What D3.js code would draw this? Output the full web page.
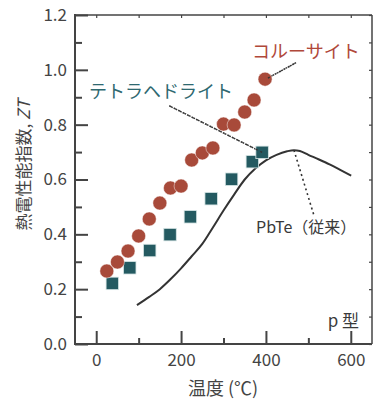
<!DOCTYPE html>
<html><head><meta charset="utf-8">
<script src="https://cdn.jsdelivr.net/npm/d3@7"></script>
<style>body{margin:0;background:#fff}</style>
</head><body><svg id="c" width="373" height="400"></svg>
<script>
// ---- data ----
const colusiteT  = [25, 50, 75, 100, 125, 150, 175, 200, 225, 250, 275, 300, 325, 350, 372, 398];
const colusiteZT = [0.266, 0.299, 0.339, 0.394, 0.456, 0.514, 0.569, 0.576, 0.671, 0.697, 0.715, 0.802, 0.799, 0.846, 0.890, 0.966];
const tetraT  = [38, 79, 126, 174, 222, 271, 319, 368, 391];
const tetraZT = [0.221, 0.278, 0.341, 0.399, 0.464, 0.530, 0.601, 0.665, 0.699];
const pbteT  = [96, 125, 150, 175, 200, 225, 250, 275, 300, 325, 350, 375, 400, 425, 450, 466, 480, 500, 525, 550, 575, 601];
const pbteZT = [0.142, 0.172, 0.200, 0.236, 0.276, 0.320, 0.365, 0.425, 0.487, 0.545, 0.600, 0.640, 0.670, 0.690, 0.703, 0.707, 0.704, 0.690, 0.673, 0.655, 0.635, 0.614];
const xMajor = [0, 200, 400, 600];
const xMinor = [100, 300, 500];
const yMajor = [0, 0.2, 0.4, 0.6, 0.8, 1.0, 1.2];
const yMinor = [0.1, 0.3, 0.5, 0.7, 0.9, 1.1];
const labels = {colusite: "コルーサイト", tetra: "テトラヘドライト", pbte: "PbTe（従来）", ptype: "p 型"};
// leader lines [from, to] in data units
const colusiteLeader = [[400, 0.966], [471, 1.026]];
const tetraLeader = [[172, 0.869], [391, 0.699]];
const pbteLeader = [[466, 0.707], [513, 0.47]];

const W = 373, H = 400;
const L = 75, R = 372, T = 15, B = 344;
const FONT = "'Noto Sans CJK JP', 'Noto Sans', sans-serif";
const svg = d3.select("#c");
const x = d3.scaleLinear().domain([-50, 650]).range([L, R]);
const y = d3.scaleLinear().domain([0, 1.2]).range([B, T]);

const axisColor = "#444";
// frame top/right
svg.append("line").attr("x1", L).attr("x2", R).attr("y1", T).attr("y2", T).attr("stroke", axisColor).attr("stroke-width", 1.5);
svg.append("line").attr("x1", R).attr("x2", R).attr("y1", T).attr("y2", B).attr("stroke", axisColor).attr("stroke-width", 1.5);
// top minor ticks
const topAx = svg.append("g").attr("transform", `translate(0,${T})`)
  .call(d3.axisTop(x).tickValues(xMajor.concat(xMinor)).tickSize(-3).tickFormat(""));
const rightAx = svg.append("g").attr("transform", `translate(${R},0)`)
  .call(d3.axisRight(y).tickValues(yMajor.concat(yMinor)).tickSize(-3).tickFormat(""));
[topAx, rightAx].forEach(g => { g.select(".domain").remove(); g.selectAll("line").attr("stroke", axisColor).attr("stroke-width", 1.2); });

// left axis
const yAx = svg.append("g").attr("transform", `translate(${L},0)`)
  .call(d3.axisLeft(y).tickValues(yMajor).tickSize(-13).tickPadding(8).tickFormat(d3.format(".1f")));
const yAxMin = svg.append("g").attr("transform", `translate(${L},0)`)
  .call(d3.axisLeft(y).tickValues(yMinor).tickSize(-7).tickFormat(""));
// bottom axis
const xAx = svg.append("g").attr("transform", `translate(0,${B})`)
  .call(d3.axisBottom(x).tickValues(xMajor).tickSize(-13).tickPadding(10).tickFormat(d3.format("d")));
const xAxMin = svg.append("g").attr("transform", `translate(0,${B})`)
  .call(d3.axisBottom(x).tickValues(xMinor).tickSize(-6).tickFormat(""));
[yAx, yAxMin, xAx, xAxMin].forEach(g => {
  g.select(".domain").remove();
  g.selectAll("line").attr("stroke", axisColor).attr("stroke-width", 2);
  g.selectAll("text").attr("fill", "#444").style("font-family", FONT).style("font-size", "17px");
});
svg.append("line").attr("x1", L).attr("x2", L).attr("y1", T - 1).attr("y2", B + 1).attr("stroke", axisColor).attr("stroke-width", 2);
svg.append("line").attr("x1", L - 1).attr("x2", R).attr("y1", B).attr("y2", B).attr("stroke", axisColor).attr("stroke-width", 2);

// axis titles
svg.append("text").attr("x", 223).attr("y", 395).attr("text-anchor", "middle")
  .attr("fill", "#444").style("font-family", FONT).style("font-size", "18px").text("温度 (℃)");
const yl = svg.append("text").attr("transform", "translate(30,165) rotate(-90)").attr("text-anchor", "middle")
  .attr("fill", "#444").style("font-family", FONT).style("font-size", "17px");
yl.append("tspan").text("熱電性能指数, ");
yl.append("tspan").style("font-style", "italic").text("ZT");

// PbTe curve
svg.append("path").datum(pbteT.map((t, i) => [t, pbteZT[i]]))
  .attr("fill", "none").attr("stroke", "#333").attr("stroke-width", 2)
  .attr("d", d3.line().x(d => x(d[0])).y(d => y(d[1])).curve(d3.curveMonotoneX));

// leader lines
[colusiteLeader, tetraLeader, pbteLeader].forEach(ld => {
  svg.append("line").attr("x1", x(ld[0][0])).attr("y1", y(ld[0][1]))
    .attr("x2", x(ld[1][0])).attr("y2", y(ld[1][1]))
    .attr("stroke", "#333").attr("stroke-width", 1.6).attr("stroke-dasharray", "2,3");
});

// tetrahedrite squares
const s = 12.5;
svg.append("g").selectAll("rect").data(tetraT.map((t, i) => [t, tetraZT[i]])).join("rect")
  .attr("x", d => x(d[0]) - s / 2).attr("y", d => y(d[1]) - s / 2)
  .attr("width", s).attr("height", s)
  .attr("fill", "#245a61").attr("stroke", "#d8e6e6").attr("stroke-width", 0.8);

// colusite circles
svg.append("g").selectAll("circle").data(colusiteT.map((t, i) => [t, colusiteZT[i]])).join("circle")
  .attr("cx", d => x(d[0])).attr("cy", d => y(d[1])).attr("r", 7)
  .attr("fill", "#a84a3a").attr("stroke", "rgba(255,255,255,0.6)").attr("stroke-width", 0.8);

// redraw leader line over the last colusite point (small cross) & last tetra point
[colusiteLeader, tetraLeader].forEach(ld => {
  svg.append("line").attr("x1", x(ld[1][0])).attr("y1", y(ld[1][1]))
    .attr("x2", x(ld[0][0])).attr("y2", y(ld[0][1]))
    .attr("stroke", "#333").attr("stroke-width", 1.4).attr("stroke-dasharray", "2,3");
});

// labels
svg.append("text").attr("x", 252).attr("y", 58).attr("fill", "#b0483a")
  .style("font-family", FONT).style("font-size", "18px").text(labels.colusite);
svg.append("text").attr("x", 89).attr("y", 98).attr("fill", "#2e6870")
  .style("font-family", FONT).style("font-size", "18px").text(labels.tetra);
svg.append("text").attr("x", 256).attr("y", 233).attr("fill", "#3a3a3a")
  .style("font-family", FONT).style("font-size", "16px").text(labels.pbte);
svg.append("text").attr("x", 359).attr("y", 327).attr("text-anchor", "end").attr("fill", "#3a3a3a")
  .style("font-family", FONT).style("font-size", "17px").text(labels.ptype);
</script>
</body></html>
